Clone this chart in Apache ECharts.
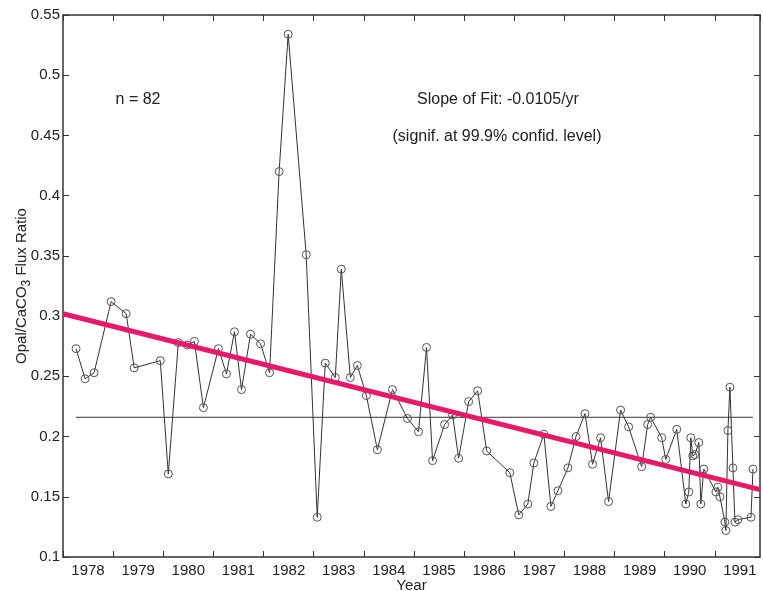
<!DOCTYPE html>
<html>
<head>
<meta charset="utf-8">
<script src="https://cdn.jsdelivr.net/npm/echarts@6/dist/echarts.min.js"></script>
<style>
  html, body { margin: 0; padding: 0; background: #fff; }
  #chart { width: 763px; height: 591px; }
</style>
</head>
<body>
<div id="chart"></div>
<script>
// sample dates (decimal years) and Opal/CaCO3 flux ratios
const years = [
  1978.26, 1978.44, 1978.62, 1978.96, 1979.26, 1979.42, 1979.94, 1980.10, 1980.30, 1980.48,
  1980.62, 1980.80, 1981.10, 1981.26, 1981.42, 1981.56, 1981.74, 1981.94, 1982.12, 1982.31,
  1982.49, 1982.85, 1983.07, 1983.23, 1983.43, 1983.55, 1983.73, 1983.87, 1984.05, 1984.27,
  1984.57, 1984.87, 1985.09, 1985.25, 1985.37, 1985.61, 1985.77, 1985.89, 1986.09, 1986.27,
  1986.45, 1986.91, 1987.09, 1987.27, 1987.39, 1987.59, 1987.73, 1987.87, 1988.07, 1988.23,
  1988.41, 1988.56, 1988.72, 1988.88, 1989.12, 1989.28, 1989.54, 1989.66, 1989.72, 1989.94,
  1990.02, 1990.24, 1990.42, 1990.48, 1990.52, 1990.56, 1990.60, 1990.68, 1990.72, 1990.78,
  1991.02, 1991.06, 1991.10, 1991.20, 1991.22, 1991.26, 1991.30, 1991.36, 1991.40, 1991.46,
  1991.72, 1991.76
];
const ratios = [
  0.273, 0.248, 0.253, 0.312, 0.302, 0.257, 0.263, 0.169, 0.278, 0.276,
  0.279, 0.224, 0.273, 0.252, 0.287, 0.239, 0.285, 0.277, 0.253, 0.420,
  0.534, 0.351, 0.133, 0.261, 0.249, 0.339, 0.249, 0.259, 0.234, 0.189,
  0.239, 0.215, 0.204, 0.274, 0.180, 0.210, 0.218, 0.182, 0.229, 0.238,
  0.188, 0.170, 0.135, 0.144, 0.178, 0.202, 0.142, 0.155, 0.174, 0.200,
  0.219, 0.177, 0.199, 0.146, 0.222, 0.208, 0.175, 0.210, 0.216, 0.199,
  0.181, 0.206, 0.144, 0.154, 0.199, 0.184, 0.185, 0.195, 0.144, 0.173,
  0.154, 0.158, 0.150, 0.129, 0.122, 0.205, 0.241, 0.174, 0.129, 0.131,
  0.133, 0.173
];
const meanRatio = 0.216;
const fitYears = [1978, 1991.9];
const fitRatios = [0.302, 0.156];

const FONT = '"Liberation Sans", Arial, sans-serif';
const INK = '#222';

const points = years.map((y, i) => [y, ratios[i]]);

const chart = echarts.init(document.getElementById('chart'));

const xBase = {
  type: 'value',
  min: 1978,
  max: 1991.9,
  interval: 1,
  splitLine: { show: false },
  axisLine: { lineStyle: { color: '#333', width: 1.5 } },
  axisTick: { inside: true, length: 6, lineStyle: { color: '#333' } },
};
const yBase = {
  type: 'value',
  min: 0.1,
  max: 0.55,
  interval: 0.05,
  splitLine: { show: false },
  axisLine: { show: true, lineStyle: { color: '#333', width: 1.5 } },
  axisTick: { show: true, inside: true, length: 6, lineStyle: { color: '#333' } },
};

chart.setOption({
  animation: false,
  backgroundColor: '#fff',
  grid: { left: 63, right: 3, top: 15, bottom: 34, containLabel: false, outerBoundsMode: 'none' },
  xAxis: [
    Object.assign({}, xBase, {
      position: 'bottom',
      name: 'Year',
      nameLocation: 'middle',
      nameGap: 21,
      nameMoveOverlap: false,
      nameTextStyle: { color: INK, fontFamily: FONT, fontSize: 15 },
      axisLabel: {
        color: INK, fontFamily: FONT, fontSize: 15, margin: 6,
        // year labels sit in the middle of each year span
        padding: [0, 0, 0, 50],
        showMaxLabel: false,
        formatter: v => String(Math.round(v))
      }
    }),
    Object.assign({}, xBase, { position: 'top', axisLabel: { show: false } })
  ],
  yAxis: [
    Object.assign({}, yBase, {
      position: 'left',
      name: 'Opal/CaCO{sub|3} Flux Ratio',
      nameLocation: 'middle',
      nameGap: 34,
      nameMoveOverlap: false,
      nameTextStyle: {
        color: INK, fontFamily: FONT, fontSize: 15,
        rich: { sub: { fontSize: 12, verticalAlign: 'bottom', padding: [0, 0, -4, 0], color: INK, fontFamily: FONT } }
      },
      axisLabel: { color: INK, fontFamily: FONT, fontSize: 15, margin: 3 }
    }),
    Object.assign({}, yBase, { position: 'right', axisLabel: { show: false } })
  ],
  series: [
    {
      type: 'line',
      data: [[years[0], meanRatio], [years[years.length - 1], meanRatio]],
      symbol: 'none',
      lineStyle: { color: '#333', width: 1 },
      z: 2
    },
    {
      type: 'line',
      data: points,
      symbol: 'circle',
      symbolSize: 8,
      itemStyle: { color: 'rgba(255,255,255,0)', borderColor: '#555', borderWidth: 1 },
      lineStyle: { color: '#333', width: 1 },
      z: 3
    },
    {
      type: 'line',
      data: fitYears.map((y, i) => [y, fitRatios[i]]),
      symbol: 'none',
      lineStyle: { color: '#e8196b', width: 5 },
      z: 4
    }
  ],
  graphic: [
    { type: 'text', x: 138, y: 100, style: { text: 'n = 82', font: '16px ' + FONT, fill: INK, align: 'center', verticalAlign: 'middle' } },
    { type: 'text', x: 498, y: 100, style: { text: 'Slope of Fit: -0.0105/yr', font: '16px ' + FONT, fill: INK, align: 'center', verticalAlign: 'middle' } },
    { type: 'text', x: 497, y: 137, style: { text: '(signif. at 99.9% confid. level)', font: '16px ' + FONT, fill: INK, align: 'center', verticalAlign: 'middle' } }
  ]
});
</script>
</body>
</html>
